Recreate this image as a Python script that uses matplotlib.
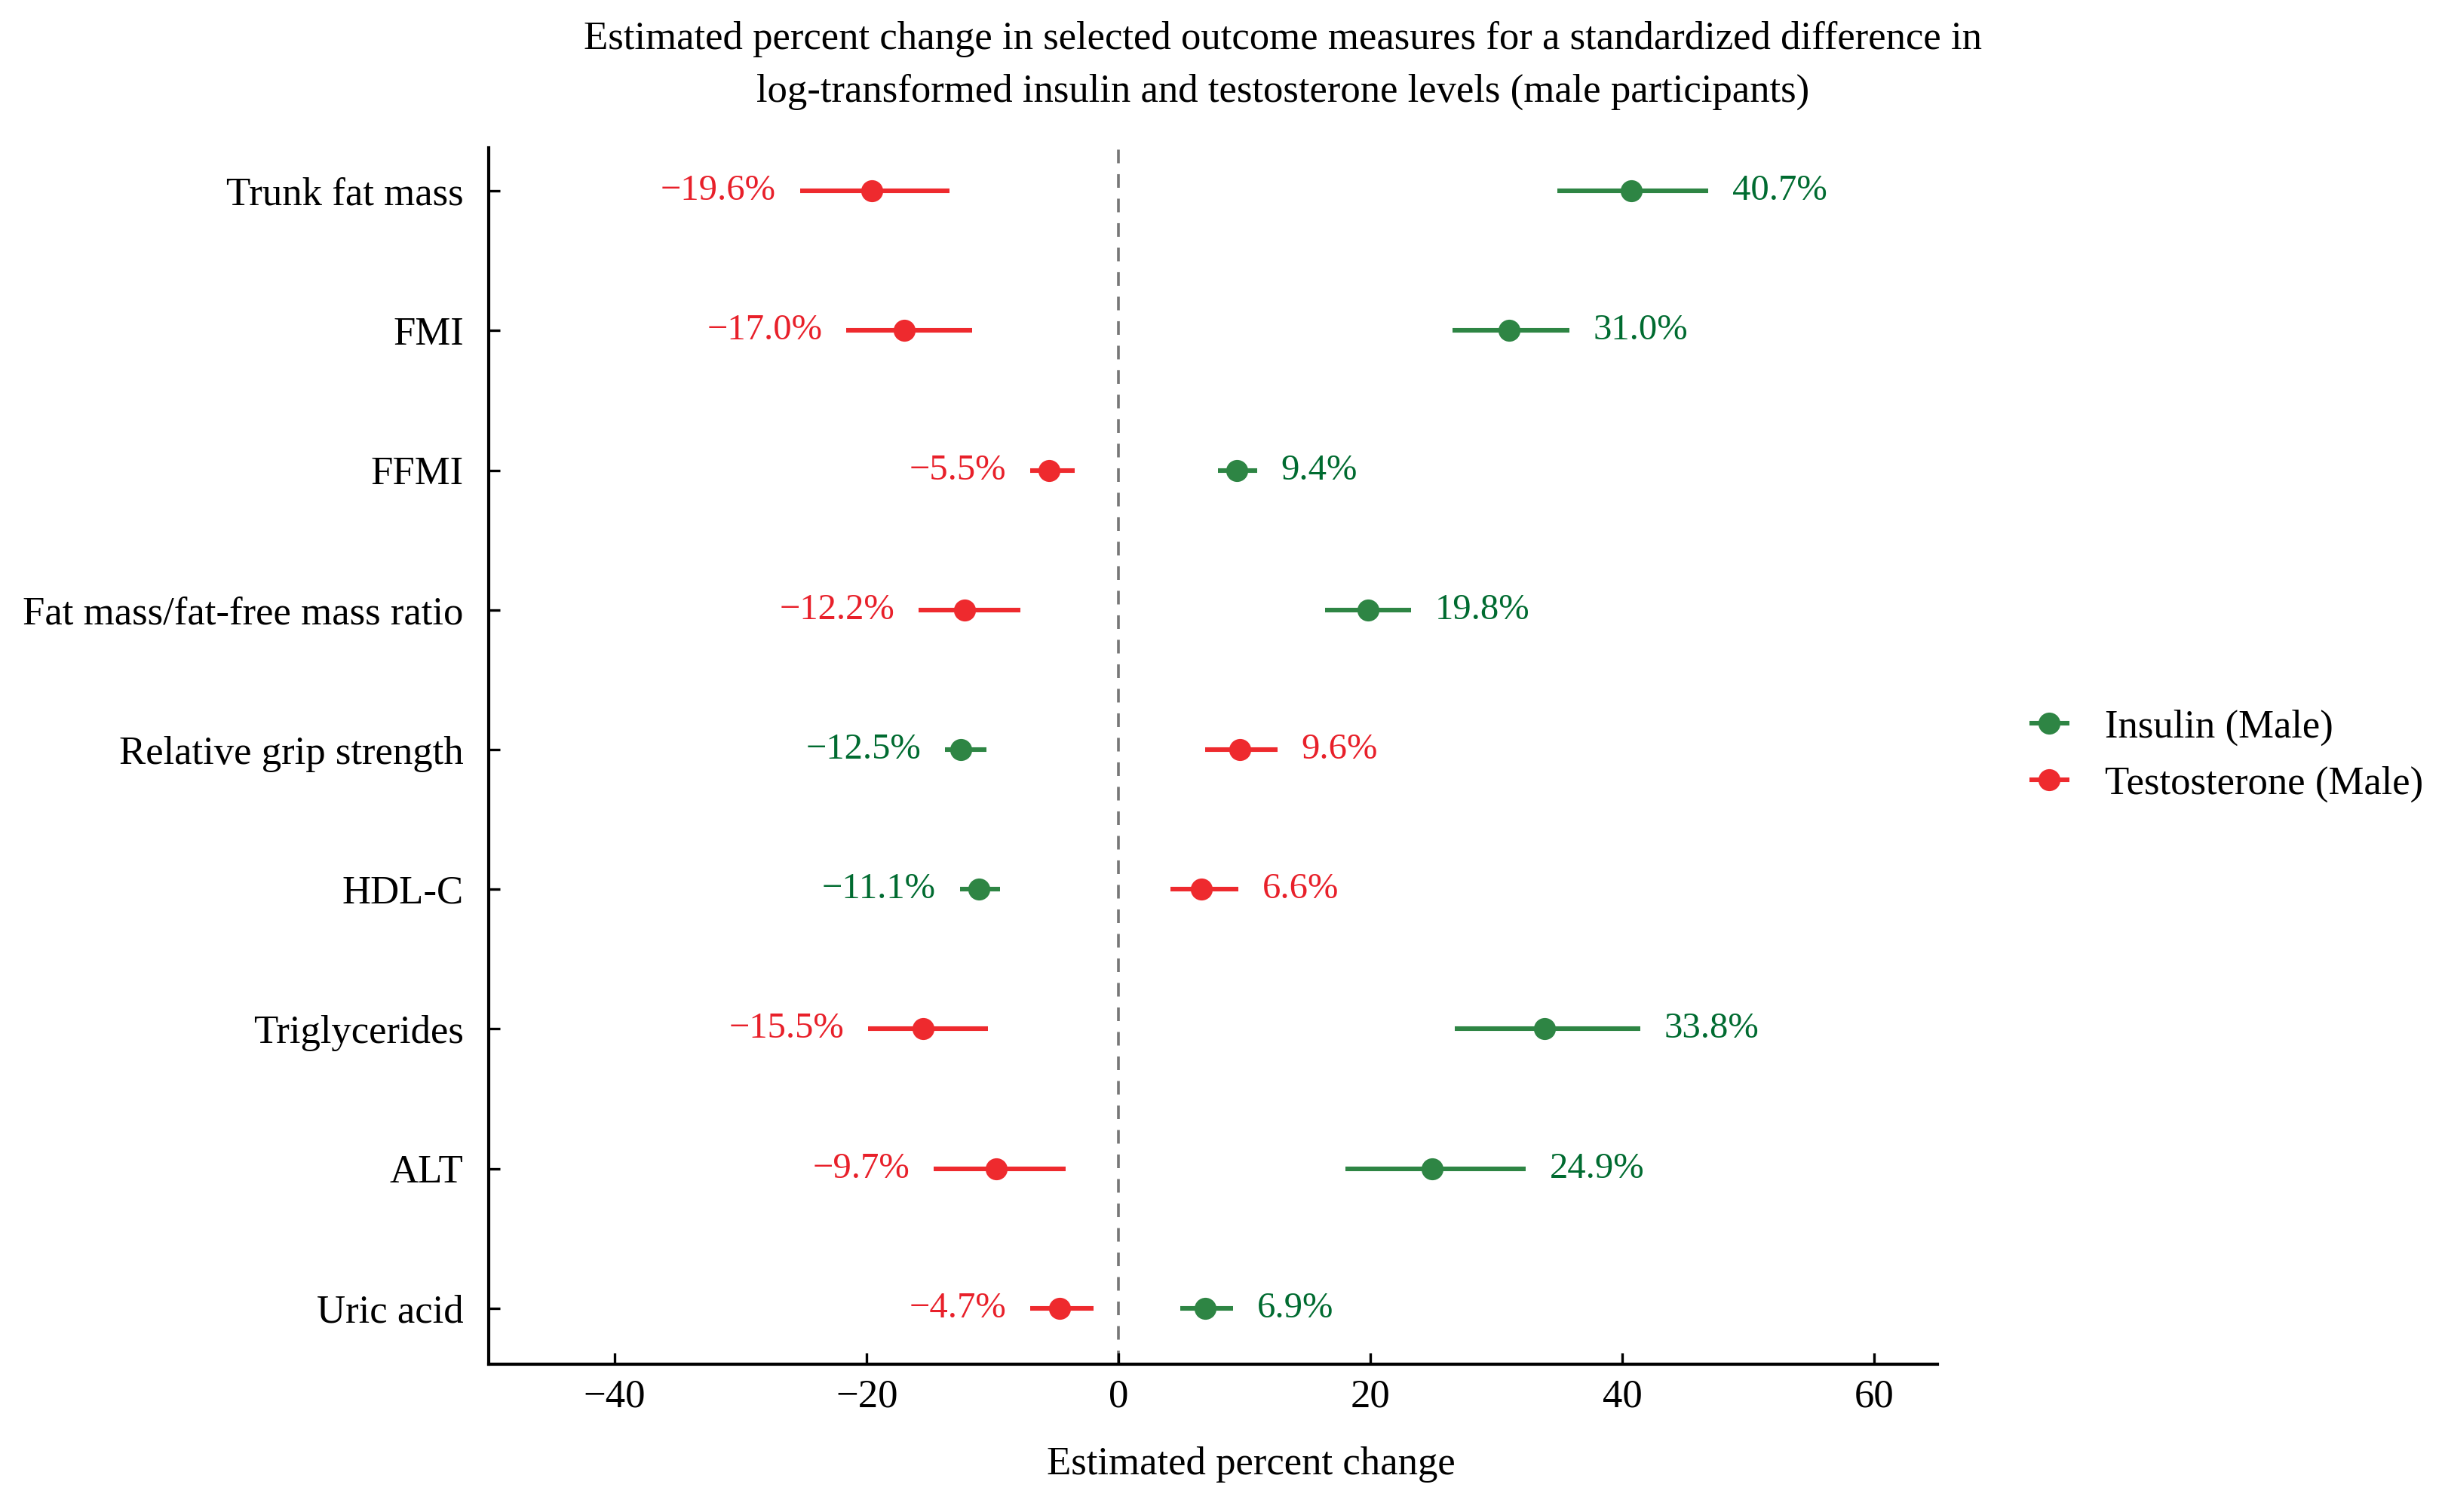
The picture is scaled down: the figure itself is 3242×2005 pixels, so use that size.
import numpy as np
import matplotlib
matplotlib.use("Agg")
import matplotlib.pyplot as plt

plt.rcParams['font.family'] = ['Liberation Serif', 'DejaVu Serif']

outcomes = ["Trunk fat mass", "FMI", "FFMI", "Fat mass/fat-free mass ratio",
            "Relative grip strength", "HDL-C", "Triglycerides", "ALT", "Uric acid"]

insulin_est = [40.7, 31.0, 9.4, 19.8, -12.5, -11.1, 33.8, 24.9, 6.9]
insulin_lo = [34.8, 26.5, 7.9, 16.4, -13.8, -12.6, 26.7, 18.0, 4.9]
insulin_hi = [46.8, 35.8, 11.0, 23.2, -10.5, -9.4, 41.4, 32.3, 9.1]

testo_est = [-19.6, -17.0, -5.5, -12.2, 9.6, 6.6, -15.5, -9.7, -4.7]
testo_lo = [-25.3, -21.6, -7.0, -15.9, 6.9, 4.1, -19.9, -14.7, -7.0]
testo_hi = [-13.4, -11.6, -3.5, -7.8, 12.6, 9.5, -10.4, -4.2, -2.0]

green = "#2e8544"
green_txt = "#006b30"
red = "#ee2a2e"
red_txt = "#e8202a"

fig = plt.figure(figsize=(16.21, 10.025), dpi=200)
ax = fig.add_axes([0.1999, 0.0978, 0.5925, 0.8045])

y = np.arange(len(outcomes))

def draw(est, lo, hi, col, tcol, label):
    est = np.array(est)
    err = [est - np.array(lo), np.array(hi) - est]
    ax.errorbar(est, y, xerr=err, fmt='o', color=col, ecolor=col,
                elinewidth=2.2, markersize=9.5, capsize=0, label=label)
    for yi, e, l, h in zip(y, est, lo, hi):
        if e >= 0:
            ax.text(h + 1.9, yi, f"{e:.1f}%", color=tcol, fontsize=17.5,
                    ha='left', va='center')
        else:
            ax.text(l - 1.9, yi, f"\u2212{abs(e):.1f}%", color=tcol, fontsize=17.5,
                    ha='right', va='center')

draw(insulin_est, insulin_lo, insulin_hi, green, green_txt, "Insulin (Male)")
draw(testo_est, testo_lo, testo_hi, red, red_txt, "Testosterone (Male)")

ax.axvline(0, color="#777777", linestyle=(0, (5, 4)), linewidth=1.3, zorder=0)

ax.set_xlim(-50, 65)
ax.set_ylim(len(outcomes) - 1 + 0.4, -0.31)
ax.set_yticks(y)
ax.set_yticklabels(outcomes, fontsize=19)
ax.set_xticks([-40, -20, 0, 20, 40, 60])
ax.set_xticklabels(["\u221240", "\u221220", "0", "20", "40", "60"], fontsize=19)
ax.tick_params(direction='in', length=5.5, width=1.2, pad=12)
ax.tick_params(axis='x', pad=7)
ax.set_xlabel("Estimated percent change", fontsize=19, labelpad=15, x=0.526)
for s in ["top", "right"]:
    ax.spines[s].set_visible(False)
for s in ["left", "bottom"]:
    ax.spines[s].set_linewidth(1.5)

ax.set_title("Estimated percent change in selected outcome measures for a standardized difference in\n"
             "log-transformed insulin and testosterone levels (male participants)",
             fontsize=19, linespacing=1.6, pad=22, x=0.548)

ax.legend(loc='center left', bbox_to_anchor=(1.025, 0.5), frameon=False, fontsize=19,
          handletextpad=0.4, labelspacing=0.5)

fig.savefig("out.png", dpi=200)
